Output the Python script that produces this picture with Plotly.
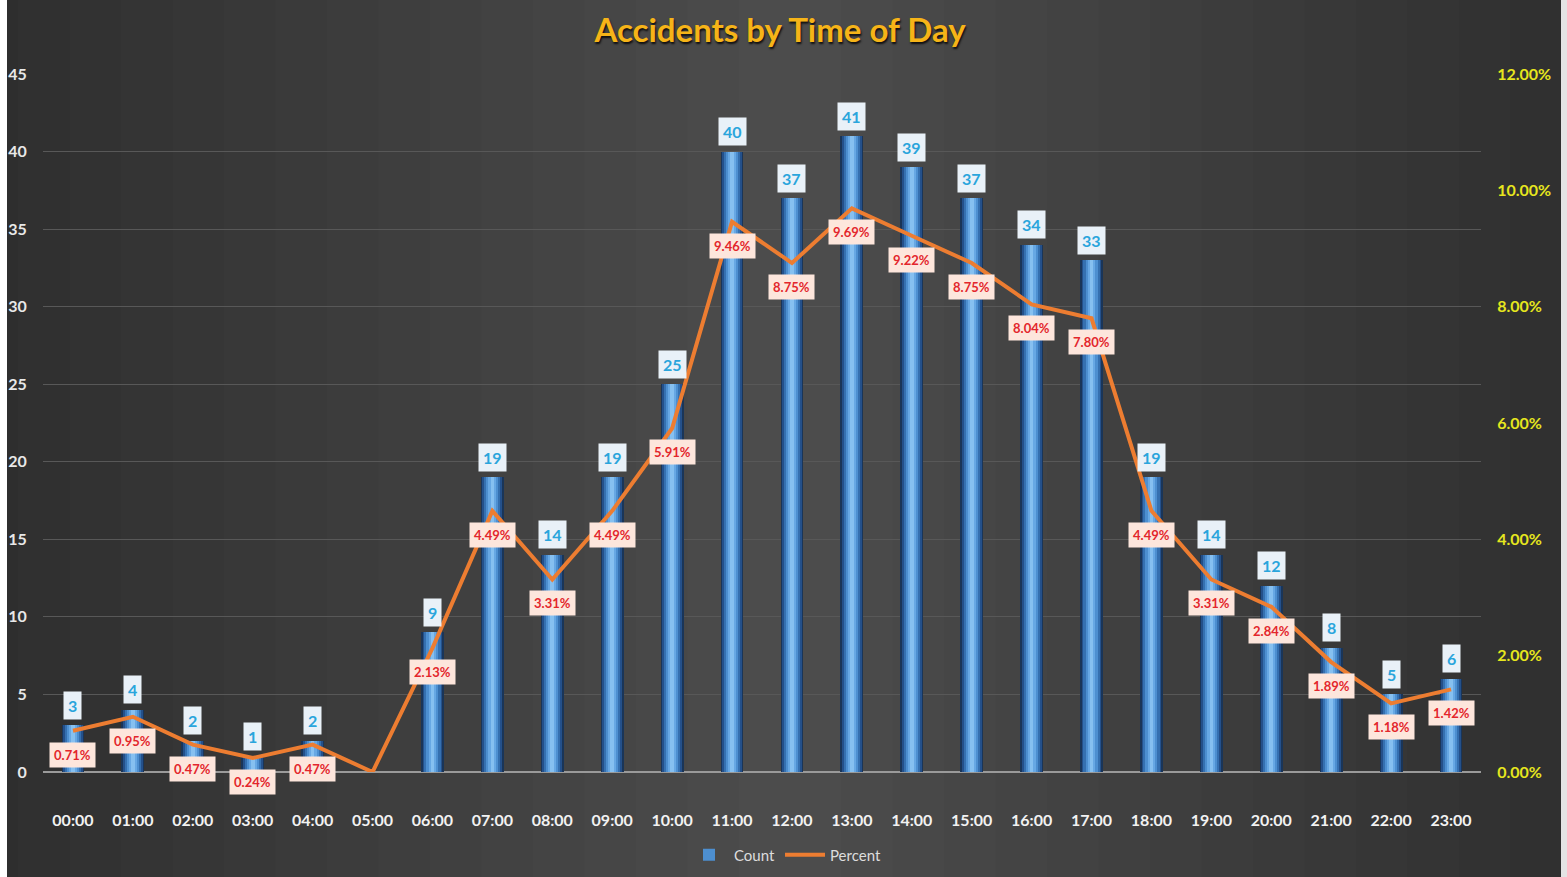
import plotly.graph_objects as go

hours = [f"{h:02d}:00" for h in range(24)]
counts = [3, 4, 2, 1, 2, 0, 9, 19, 14, 19, 25, 40, 37, 41, 39, 37, 34, 33, 19, 14, 12, 8, 5, 6]
percents = [0.71, 0.95, 0.47, 0.24, 0.47, 0.00, 2.13, 4.49, 3.31, 4.49, 5.91, 9.46,
            8.75, 9.69, 9.22, 8.75, 8.04, 7.80, 4.49, 3.31, 2.84, 1.89, 1.18, 1.42]
left_ticks = list(range(0, 46, 5))
right_ticks = [0, 2, 4, 6, 8, 10, 12]

W, H = 1567, 877
ML, MR, MT, MB = 43, 86, 74, 105
PW, PH = W - ML - MR, H - MT - MB

def px_x(p):
    return (p - ML) / PW

def px_y(p):
    return (H - MB - p) / PH

fig = go.Figure()

# cylinder-like bars: layered overlay bars
layers = [
    (0.38, "#1a3558"),
    (0.33, "#24508a"),
    (0.27, "#3570b0"),
    (0.20, "#4d8fd0"),
    (0.13, "#67a8e4"),
    (0.06, "#86c0f0"),
]
for i, (w, c) in enumerate(layers):
    fig.add_trace(go.Bar(
        x=hours, y=counts, width=w, marker=dict(color=c, line=dict(width=0)),
        name="Count", showlegend=(i == 3), legendrank=1, hoverinfo="skip" if i else None,
        yaxis="y",
    ))

fig.add_trace(go.Scatter(
    x=hours, y=percents, mode="lines", name="Percent",
    line=dict(color="#ed7d31", width=4), yaxis="y2", legendrank=2,
))

annotations = []
for h, c, p in zip(hours, counts, percents):
    if c == 0:
        continue
    annotations.append(dict(
        x=h, y=c, xref="x", yref="y", text=f"<b>{c}</b>", showarrow=False,
        yshift=20, font=dict(family="Lato", size=16, color="#2aa5dc"),
        bgcolor="#e9f1f8", borderpad=4,
    ))
    annotations.append(dict(
        x=h, y=p, xref="x", yref="y2", text=f"<b>{p:.2f}%</b>", showarrow=False,
        yshift=-24, font=dict(family="Lato", size=13, color="#e3262c"),
        bgcolor="#fde6dc", borderpad=4,
    ))

# background gradient bands
shapes = []
n = 16
cx = 790
for k in range(n):
    half = (W / 2 + 40) * (1 - k / n)
    shapes.append(dict(
        type="rect", xref="paper", yref="paper", layer="below",
        x0=px_x(cx - half), x1=px_x(cx + half), y0=px_y(H + 5), y1=px_y(-5),
        fillcolor="rgba(255,255,255,0.011)", line=dict(width=0),
    ))
# white frame strips
shapes.append(dict(type="rect", xref="paper", yref="paper", layer="below",
                   x0=px_x(-2), x1=px_x(7), y0=px_y(H + 5), y1=px_y(-5),
                   fillcolor="#ffffff", line=dict(width=0)))
shapes.append(dict(type="rect", xref="paper", yref="paper", layer="below",
                   x0=px_x(1561), x1=px_x(W + 5), y0=px_y(H + 5), y1=px_y(-5),
                   fillcolor="#e4e4e4", line=dict(width=0)))

fig.update_layout(
    width=W, height=H,
    margin=dict(l=ML, r=MR, t=MT, b=MB, autoexpand=False),
    paper_bgcolor="#2c2c2c", plot_bgcolor="rgba(0,0,0,0)",
    barmode="overlay", bargap=0,
    title=dict(text="<b>Accidents by Time of Day</b>", x=780 / W, xref="container",
               y=1 - 30 / H, yref="container", xanchor="center", yanchor="middle",
               font=dict(family="Lato", size=33, color="#f6b418",
                         shadow="1px 2px 2px rgba(0,0,0,0.8)")),
    xaxis=dict(type="category", tickfont=dict(family="Lato", size=16, color="#f2f2f2", weight="bold"),
               ticks="outside", ticklen=34, tickcolor="rgba(0,0,0,0)", showgrid=False,
               showline=False, zeroline=False),
    yaxis=dict(range=[0, 45], tickvals=left_ticks, showgrid=True, gridcolor="#585858", gridwidth=1,
               zeroline=True, zerolinecolor="#9a9a9a", zerolinewidth=1.5,
               tickfont=dict(family="Lato", size=16, color="#e8e8e8", weight="bold"),
               ticks="outside", ticklen=12, tickcolor="rgba(0,0,0,0)", showline=False),
    yaxis2=dict(range=[0, 12], tickvals=right_ticks, ticktext=[f"{v:.2f}%" for v in right_ticks],
                overlaying="y", side="right", showgrid=False, zeroline=False,
                tickfont=dict(family="Lato", size=16, color="#e6e61e", weight="bold"),
                ticks="outside", ticklen=12, tickcolor="rgba(0,0,0,0)", showline=False),
    legend=dict(orientation="h", x=px_x(785), xanchor="center", y=px_y(855), yanchor="middle",
                font=dict(family="Lato", size=15, color="#dddddd"), bgcolor="rgba(0,0,0,0)",
                itemwidth=40, traceorder="normal"),
    annotations=annotations, shapes=shapes, showlegend=True,
)

fig.write_html("out.html", config={"displayModeBar": False},
               post_script="document.body.style.margin='0';document.body.style.overflow='hidden';")
